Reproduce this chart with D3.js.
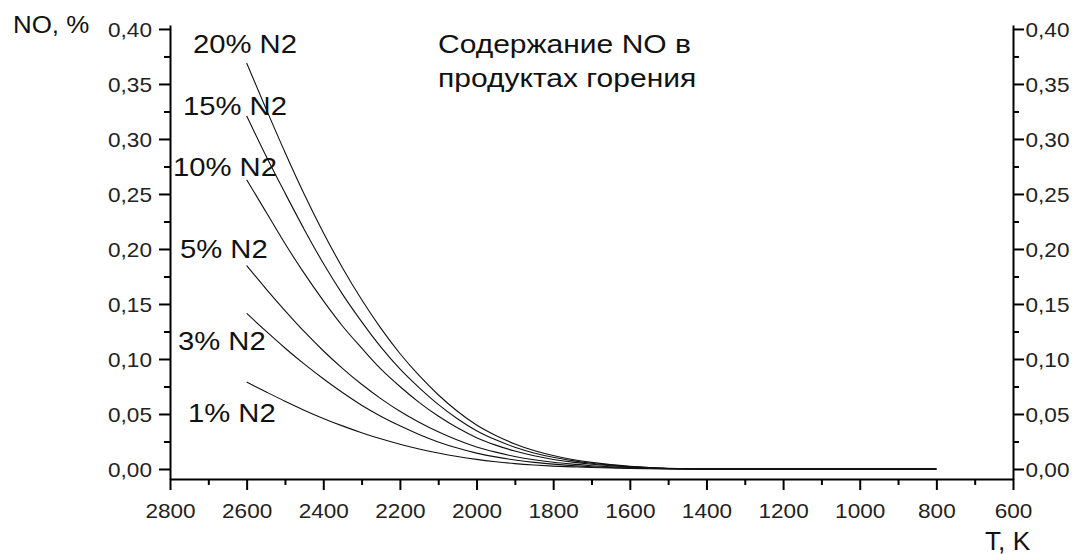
<!DOCTYPE html>
<html>
<head>
<meta charset="utf-8">
<script src="https://cdn.jsdelivr.net/npm/d3@7"></script>
<style>
  body { margin: 0; background: #fff; }
  text { font-family: "Liberation Sans", Arial, sans-serif; }
</style>
</head>
<body>
<div id="chart"></div>
<script>
// Temperatures (K) where each curve was read
const temps = [2600, 2550, 2500, 2450, 2400, 2350, 2300, 2250, 2200, 2150, 2100, 2050, 2000,
               1950, 1900, 1850, 1800, 1750, 1700, 1650, 1600, 1550, 1500, 1400, 1200, 1000, 800];

// NO content, % — one array per N2 share
const no20 = [0.369, 0.328, 0.288, 0.250, 0.215, 0.183, 0.154, 0.128, 0.105, 0.085, 0.0675, 0.0525, 0.040,
              0.0305, 0.0228, 0.0168, 0.0122, 0.0087, 0.006, 0.004, 0.0025, 0.0014, 0.0006, 0, 0, 0, 0];
const no15 = [0.321, 0.285, 0.251, 0.218, 0.187, 0.159, 0.134, 0.111, 0.091, 0.074, 0.0587, 0.0457, 0.0348,
              0.0265, 0.0198, 0.0146, 0.0106, 0.0076, 0.0052, 0.0035, 0.0022, 0.0012, 0.0005, 0, 0, 0, 0];
const no10 = [0.263, 0.234, 0.205, 0.178, 0.153, 0.130, 0.110, 0.091, 0.075, 0.0606, 0.0481, 0.0374, 0.0285,
              0.0217, 0.0163, 0.012, 0.0087, 0.0062, 0.0043, 0.0029, 0.0018, 0.001, 0.0004, 0, 0, 0, 0];
const no5  = [0.185, 0.164, 0.144, 0.125, 0.1075, 0.0915, 0.077, 0.064, 0.0525, 0.0425, 0.0338, 0.0263, 0.020,
              0.0153, 0.0114, 0.0084, 0.0061, 0.0044, 0.003, 0.002, 0.0013, 0.0007, 0.0003, 0, 0, 0, 0];
const no3  = [0.1415, 0.1255, 0.110, 0.0955, 0.082, 0.0695, 0.058, 0.048, 0.0392, 0.0314, 0.0246, 0.019, 0.0144,
              0.011, 0.0082, 0.006, 0.0044, 0.0031, 0.0021, 0.0014, 0.0009, 0.0005, 0.0002, 0, 0, 0, 0];
const no1  = [0.079, 0.0702, 0.0616, 0.0535, 0.046, 0.0392, 0.033, 0.0274, 0.0225, 0.0182, 0.0145, 0.0113, 0.0087,
              0.0066, 0.0049, 0.0036, 0.0026, 0.0019, 0.0013, 0.0009, 0.0005, 0.0003, 0.0001, 0, 0, 0, 0];

const seriesNames = ['20% N2', '15% N2', '10% N2', '5% N2', '3% N2', '1% N2'];
const seriesValues = [no20, no15, no10, no5, no3, no1];

// Axis ticks
const xMajor = [2800, 2600, 2400, 2200, 2000, 1800, 1600, 1400, 1200, 1000, 800, 600];
const xMinor = [2700, 2500, 2300, 2100, 1900, 1700, 1500, 1300, 1100, 900, 700];
const yMajor = [0, 0.05, 0.10, 0.15, 0.20, 0.25, 0.30, 0.35, 0.40];
const yMinor = [0.025, 0.075, 0.125, 0.175, 0.225, 0.275, 0.325, 0.375];

const titleLines = ['Содержание NO в', 'продуктах горения'];
const yTitle = 'NO, %';
const xTitle = 'T, K';

// Layout
const W = 1074, H = 554;
const plot = { left: 170, right: 1013, top: 25, bottom: 479 };
// label anchor (left x, baseline y) next to the start of each curve
const labelPos = [[193, 53], [183, 115], [173, 176], [180, 258], [178, 350], [188, 422]];

const svg = d3.select('#chart').append('svg')
    .attr('width', W)
    .attr('height', H);

const x = d3.scaleLinear().domain([2800, 600]).range([plot.left, plot.right]);
const y = d3.scaleLinear().domain([-0.0091, 0.4036]).range([plot.bottom, plot.top]);

const fmtY = v => d3.format('.2f')(v).replace('.', ',');

// text helper with horizontal stretch (the source picture is a bit wide)
function label(g, str, px, py, size, sx, anchor) {
    return g.append('text')
        .attr('transform', `translate(${px},${py}) scale(${sx},1)`)
        .attr('text-anchor', anchor || 'start')
        .attr('font-size', size + 'px')
        .attr('fill', '#111')
        .text(str);
}

function styleAxis(sel) {
    sel.select('.domain').attr('stroke', '#000').attr('stroke-width', 2);
    sel.selectAll('.tick line').attr('stroke', '#000').attr('stroke-width', 2);
}

// Minor ticks first
const minorLeft = svg.append('g').attr('transform', `translate(${plot.left},0)`)
    .call(d3.axisLeft(y).tickValues(yMinor).tickSize(6).tickFormat(''));
const minorRight = svg.append('g').attr('transform', `translate(${plot.right},0)`)
    .call(d3.axisRight(y).tickValues(yMinor).tickSize(6).tickFormat(''));
const minorBottom = svg.append('g').attr('transform', `translate(0,${plot.bottom})`)
    .call(d3.axisBottom(x).tickValues(xMinor).tickSize(6).tickFormat(''));
[minorLeft, minorRight, minorBottom].forEach(a => { styleAxis(a); a.select('.domain').remove(); });

// Major axes
const tickFont = 20, tickSx = 1.13;

const leftAxis = svg.append('g').attr('transform', `translate(${plot.left},0)`)
    .call(d3.axisLeft(y).tickValues(yMajor).tickSize(11).tickSizeOuter(0).tickFormat(fmtY));
leftAxis.selectAll('.tick text')
    .attr('x', null).attr('dy', null)
    .attr('transform', `translate(-18,7.5) scale(${tickSx},1)`);

const rightAxis = svg.append('g').attr('transform', `translate(${plot.right},0)`)
    .call(d3.axisRight(y).tickValues(yMajor).tickSize(11).tickSizeOuter(0).tickFormat(fmtY));
rightAxis.selectAll('.tick text')
    .attr('x', null).attr('dy', null)
    .attr('transform', `translate(12.5,7.5) scale(${tickSx},1)`);

const bottomAxis = svg.append('g').attr('transform', `translate(0,${plot.bottom})`)
    .call(d3.axisBottom(x).tickValues(xMajor).tickSize(11).tickSizeOuter(0).tickFormat(d3.format('d')));
bottomAxis.selectAll('.tick text')
    .attr('y', null).attr('dy', null)
    .attr('transform', `translate(0,39) scale(${tickSx},1)`);

[leftAxis, rightAxis, bottomAxis].forEach(a => {
    styleAxis(a);
    a.attr('font-family', null).attr('font-size', null);
    a.selectAll('.tick text').attr('font-size', tickFont + 'px').attr('fill', '#222');
});

// Curves
const line = d3.line()
    .x((d, i) => x(temps[i]))
    .y(d => y(d))
    .curve(d3.curveMonotoneX);

svg.append('g').selectAll('path')
    .data(seriesValues)
    .join('path')
    .attr('d', line)
    .attr('fill', 'none')
    .attr('stroke', '#111')
    .attr('stroke-width', 1.1);

// Curve labels
const labels = svg.append('g');
seriesNames.forEach((name, i) => {
    label(labels, name, labelPos[i][0], labelPos[i][1], 25, 1.17);
});

// Titles
label(svg, titleLines[0], 438, 53, 25, 1.2);
label(svg, titleLines[1], 438, 87, 25, 1.2);
label(svg, yTitle, 13, 33, 24, 1.08);
label(svg, xTitle, 985, 550, 25, 1.05);
</script>
</body>
</html>
